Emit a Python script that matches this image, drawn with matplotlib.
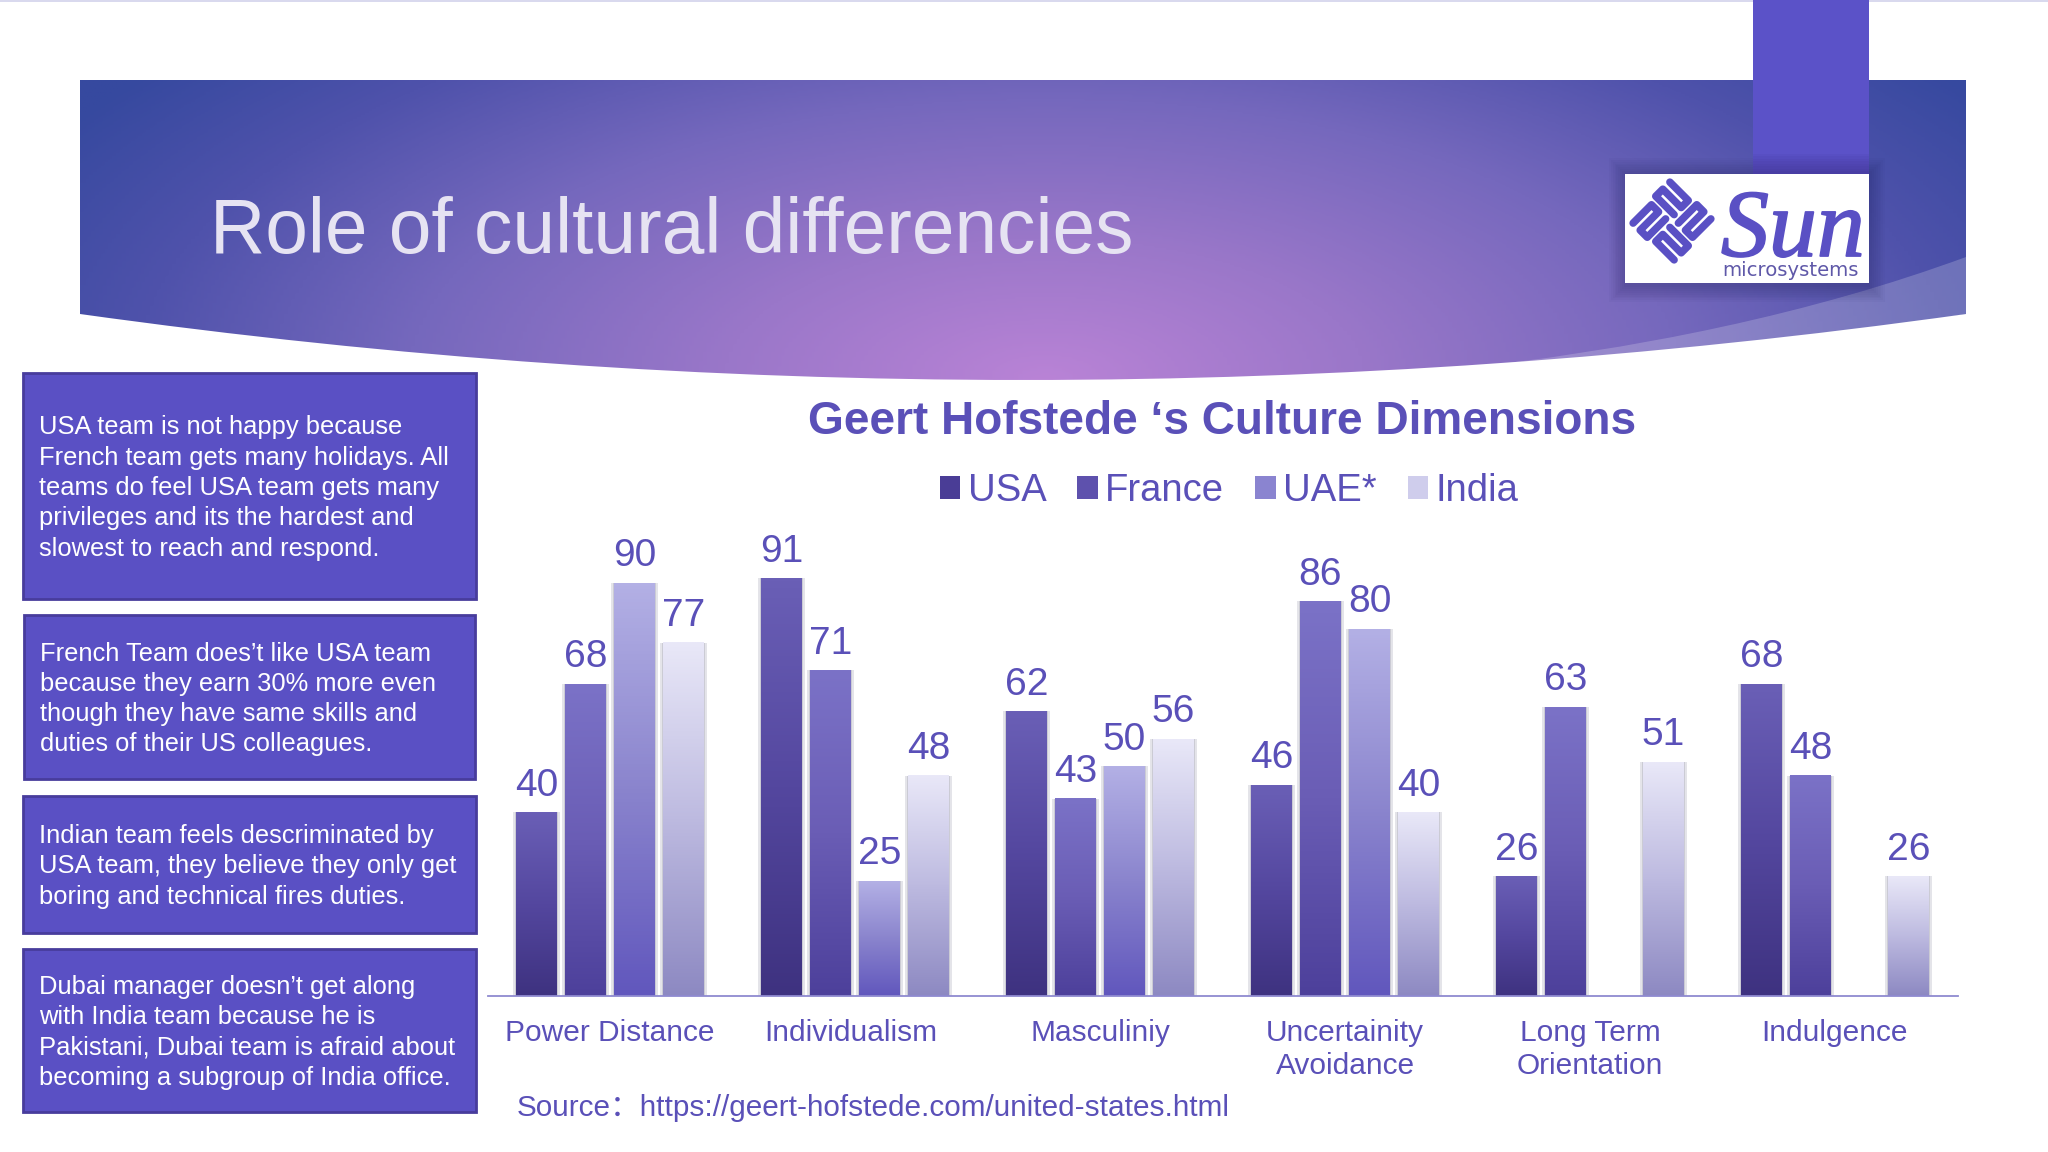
"""Recreate the Hofstede culture dimensions slide."""

import numpy as np
import matplotlib
matplotlib.use("Agg")
import matplotlib.pyplot as plt
import matplotlib.patheffects as pe
from matplotlib.colors import LinearSegmentedColormap
from matplotlib.patches import PathPatch, Patch, Rectangle
from matplotlib.path import Path
from matplotlib.transforms import ScaledTranslation

plt.rcParams['font.family'] = ['Liberation Sans', 'Noto Sans CJK SC', 'DejaVu Sans']

W, H = 2048, 1152

# chart data
categories = ['Power Distance', 'Individualism', 'Masculiniy',
              'Uncertainity\nAvoidance', 'Long Term\nOrientation', 'Indulgence']
series_names = ['USA', 'France', 'UAE*', 'India']
usa = [40, 91, 62, 46, 26, 68]
france = [68, 71, 43, 86, 63, 48]
uae = [90, 25, 50, 80, None, None]
india = [77, 48, 56, 40, 51, 26]

title = 'Role of cultural differencies'
chart_title = 'Geert Hofstede \u2018s Culture Dimensions'
source = 'Source\uff1ahttps://geert-hofstede.com/united-states.html'

box_texts = [
    "USA team is not happy because\nFrench team gets many holidays. All\nteams do feel USA team gets many\n"
    "privileges and its the hardest and\nslowest to reach and respond.",
    "French Team does\u2019t like USA team\nbecause they earn 30% more even\nthough they have same skills and\n"
    "duties of their US colleagues.",
    "Indian team feels descriminated by\nUSA team, they believe they only get\nboring and technical fires duties.",
    "Dubai manager doesn\u2019t get along\nwith India team because he is\nPakistani, Dubai team is afraid about\n"
    "becoming a subgroup of India office.",
]

# colours, bottom to top of each bar
gradients = [
    ['#3e3280', '#54479f', '#6a5fb6'],
    ['#4d409b', '#6a5db5', '#7b72c7'],
    ['#6157bd', '#8a84cd', '#b3b0e5'],
    ['#8d89c2', '#bdbae0', '#e9e8f8'],
]
legend_colors = ['#4a3d96', '#5e51ad', '#8a84d0', '#cfcdec']
TEXT_COLOR = '#5a50b8'
BOX_COLOR = '#5a50c4'
BOX_EDGE = '#483c9c'

fig = plt.figure(figsize=(W / 100, H / 100), dpi=100, facecolor='white')

# background layer in pixel coordinates
bg = fig.add_axes([0, 0, 1, 1])
bg.set_xlim(0, W)
bg.set_ylim(H, 0)
bg.axis('off')
bg.add_patch(Rectangle((0, 0), W, 1.5, color='#d9d9ee', lw=0))

# banner with a radial gradient clipped to the curved shape
banner_path = Path(
    [(80, 80), (1966, 80), (1966, 314), (1023, 446), (80, 314), (80, 80)],
    [Path.MOVETO, Path.LINETO, Path.LINETO, Path.CURVE3, Path.CURVE3, Path.CLOSEPOLY])
xx, yy = np.meshgrid(np.linspace(80, 1966, 500), np.linspace(80, 382, 160))
radius = np.sqrt(((xx - 1045) / 950) ** 2 + ((yy - 380) / 420) ** 2)
banner_cmap = LinearSegmentedColormap.from_list('banner', [
    (0.0, '#b983d6'), (0.28, '#9a77c9'), (0.56, '#7568bd'), (0.8, '#4f52ab'), (1.0, '#36499f')])
banner = bg.imshow(radius, extent=(80, 1966, 382, 80), cmap=banner_cmap, vmin=0, vmax=1.2,
                   aspect='auto', zorder=1)
banner.set_clip_path(PathPatch(banner_path, transform=bg.transData))

# lighter swoosh at the right of the banner
swoosh = Path(
    [(1966, 257), (1740, 340), (1440, 371), (1720, 358), (1966, 314), (1966, 257)],
    [Path.MOVETO, Path.CURVE3, Path.CURVE3, Path.CURVE3, Path.CURVE3, Path.CLOSEPOLY])
bg.add_patch(PathPatch(swoosh, facecolor='white', edgecolor='none', alpha=0.2, zorder=2))

# tab and logo shadow
for k in range(9):
    pad = 1 + k * 1.9
    bg.add_patch(Rectangle((1625 - pad, 174 - pad), 244 + 2 * pad, 109 + 2 * pad + 3,
                           facecolor='#20205a', edgecolor='none', alpha=0.035, zorder=3))
bg.add_patch(Rectangle((1753, 0), 116, 174, facecolor='#5b52c8', edgecolor='none', zorder=3.5))
for k in range(8):
    bg.add_patch(Rectangle((1753, 174 - 2.5 * k - 3), 116, 3 + 2.5 * k,
                           facecolor='#30206a', edgecolor='none', alpha=0.05, zorder=3.6))
bg.add_patch(Rectangle((1625, 174), 244, 109, facecolor='white', edgecolor='none', zorder=4))

# sun logo icon, four serpentine strokes in a pinwheel on a diamond
cx, cy = 1672, 221
c45 = np.cos(np.pi / 4)


def to_px(u, v):
    return cx + (u - v) * c45, cy + (u + v) * c45


snake_u = np.array([3, 29, 29, 3, 3, 29])
snake_v = np.array([6, 6, 16, 16, 26, 26])
for quad in range(4):
    ang = quad * np.pi / 2
    ca, sa = np.cos(ang), np.sin(ang)
    ur = snake_u * ca - snake_v * sa
    vr = snake_u * sa + snake_v * ca
    px, py = to_px(ur, vr)
    bg.plot(px, py, color=BOX_COLOR, lw=5.4, solid_capstyle='round', solid_joinstyle='round', zorder=5)

sun = bg.text(1793, 256, 'Sun', family='Liberation Serif', style='italic', fontsize=69,
              color=BOX_COLOR, ha='center', va='baseline', zorder=5)
sun.set_path_effects([pe.withStroke(linewidth=1.3, foreground=BOX_COLOR)])
bg.text(1791, 270, 'microsystems', family='DejaVu Sans', fontsize=14.1, color='#5f58a8',
        ha='center', va='center', zorder=5)

bg.text(210, 232, title, fontsize=55.2, color='#e6e3f2', ha='left', va='center', zorder=5)

# left text boxes
boxes = [(23, 373, 453, 226, 39), (24, 615, 451, 164, 40), (23, 796, 453, 137, 39), (23, 949, 453, 163, 39)]
for (x0, y0, bw, bh, tx), txt in zip(boxes, box_texts):
    bg.add_patch(Rectangle((x0, y0), bw, bh, facecolor=BOX_COLOR, edgecolor=BOX_EDGE, lw=2, zorder=2))
    bg.text(tx, y0 + bh / 2 + 2, txt, fontsize=18.4, color='white', ha='left', va='center',
            linespacing=1.33, zorder=3)

bg.text(1222, 422, chart_title, fontsize=33.1, fontweight='bold', color=TEXT_COLOR,
        ha='center', va='center')
bg.text(517, 1108, source, fontsize=21.45, color=TEXT_COLOR, ha='left', va='center',
        family=['Liberation Sans', 'Noto Sans CJK SC'])

# bar chart
ax = fig.add_axes([487.5 / W, (H - 995.7) / H, 1470 / W, 458.5 / H])
ax.patch.set_alpha(0)
series = [usa, france, uae, india]
x = np.arange(len(categories))
bar_w = 0.167
step = 0.2
for i, (values, cols) in enumerate(zip(series, gradients)):
    cmap = LinearSegmentedColormap.from_list(f's{i}', cols)
    pos = x + (i - 1.5) * step
    heights = [np.nan if v is None else v for v in values]
    ax.bar(pos, heights, width=bar_w + 0.026, color='#c0c0cc', alpha=0.42, zorder=1)
    ax.bar(pos, heights, width=bar_w + 0.012, color='#b8b8c4', alpha=0.55, zorder=1.5)
    rects = ax.bar(pos, heights, width=bar_w, color='none', zorder=2)
    for rect, v in zip(rects, values):
        if v is None:
            continue
        left, w = rect.get_x(), rect.get_width()
        ax.imshow(np.linspace(1, 0, 128).reshape(-1, 1), cmap=cmap, vmin=0, vmax=1, aspect='auto',
                  extent=(left, left + w, 0, v), zorder=2)
        ax.annotate(str(v), (left + w / 2, v), xytext=(0, 6.2), textcoords='offset points',
                    ha='center', va='bottom', fontsize=28, color=TEXT_COLOR)

ax.set_xlim(-0.5, 5.5)
ax.set_ylim(0, 100)
ax.set_xticks(x)
ax.set_xticklabels(categories, fontsize=21.5, color=TEXT_COLOR, linespacing=1.26)
ax.tick_params(axis='x', length=0, pad=16.5)
ax.set_yticks([])
for side in ['top', 'left', 'right']:
    ax.spines[side].set_visible(False)
ax.spines['bottom'].set_color('#8f8ad0')
ax.spines['bottom'].set_linewidth(1.3)

# the Individualism label sits a little left of its group
lab = ax.get_xticklabels()[1]
lab.set_transform(lab.get_transform() + ScaledTranslation(-0.04, 0, fig.dpi_scale_trans))

handles = [Patch(facecolor=c, edgecolor='none') for c in legend_colors]
leg = fig.legend(handles, series_names, loc='center', bbox_to_anchor=(1229 / W, 1 - 491 / H), ncol=4,
                 frameon=False, fontsize=27.5, handlelength=0.54, handleheight=0.52,
                 handletextpad=0.19, columnspacing=0.81, labelcolor=TEXT_COLOR)

fig.savefig('out.png', dpi=100)
